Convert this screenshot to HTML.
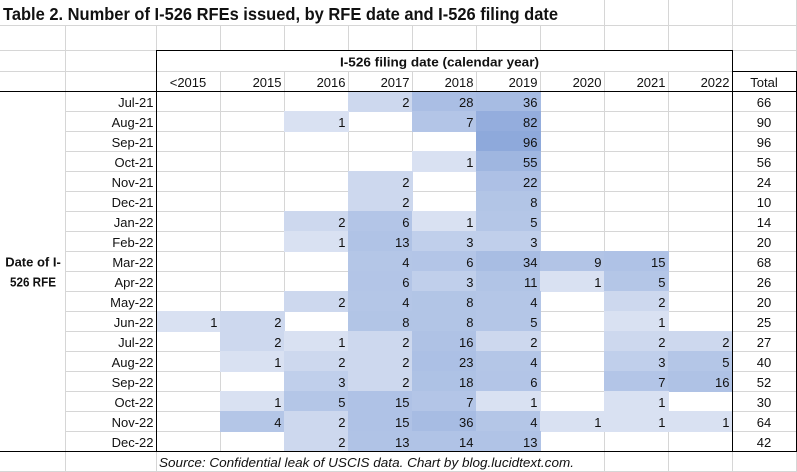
<!DOCTYPE html>
<html><head><meta charset="utf-8"><style>
html,body{margin:0;padding:0;background:#fff;}
svg{display:block;}
text{font-family:"Liberation Sans",Arial,sans-serif;font-size:13px;fill:#111;}
.b{font-weight:bold;}
.e{text-anchor:end;}
.m{text-anchor:middle;}
</style></head><body>
<svg width="797" height="472" viewBox="0 0 797 472" xmlns="http://www.w3.org/2000/svg">
<rect x="0" y="0" width="797" height="472" fill="#fff"/>
<g fill="#d6d6d6" shape-rendering="crispEdges">
<!-- horizontal gridlines -->
<rect x="0" y="25" width="797" height="1"/>
<rect x="0" y="50" width="797" height="1"/>
<rect x="0" y="71" width="797" height="1"/>
<rect x="65" y="111" width="732" height="1"/>
<rect x="65" y="131" width="732" height="1"/>
<rect x="65" y="151" width="732" height="1"/>
<rect x="65" y="171" width="732" height="1"/>
<rect x="65" y="191" width="732" height="1"/>
<rect x="65" y="211" width="732" height="1"/>
<rect x="65" y="231" width="732" height="1"/>
<rect x="65" y="251" width="732" height="1"/>
<rect x="65" y="271" width="732" height="1"/>
<rect x="65" y="291" width="732" height="1"/>
<rect x="65" y="311" width="732" height="1"/>
<rect x="65" y="331" width="732" height="1"/>
<rect x="65" y="351" width="732" height="1"/>
<rect x="65" y="371" width="732" height="1"/>
<rect x="65" y="391" width="732" height="1"/>
<rect x="65" y="411" width="732" height="1"/>
<rect x="65" y="431" width="732" height="1"/>
<rect x="0" y="471" width="797" height="1"/>
<!-- row 1 verticals -->
<rect x="604" y="0" width="1" height="25"/>
<rect x="668" y="0" width="1" height="25"/>
<rect x="732" y="0" width="1" height="25"/>
<rect x="796" y="0" width="1" height="71"/>
<!-- row 2 verticals -->
<rect x="156" y="25" width="1" height="25"/>
<rect x="220" y="25" width="1" height="25"/>
<rect x="284" y="25" width="1" height="25"/>
<rect x="348" y="25" width="1" height="25"/>
<rect x="412" y="25" width="1" height="25"/>
<rect x="476" y="25" width="1" height="25"/>
<rect x="540" y="25" width="1" height="25"/>
<rect x="604" y="25" width="1" height="25"/>
<rect x="668" y="25" width="1" height="25"/>
<rect x="732" y="25" width="1" height="25"/>
<!-- col A/B -->
<rect x="65" y="25" width="1" height="447"/>
<!-- rows 4..22 verticals -->
<rect x="220" y="71" width="1" height="380"/>
<rect x="284" y="71" width="1" height="380"/>
<rect x="348" y="71" width="1" height="380"/>
<rect x="412" y="71" width="1" height="380"/>
<rect x="476" y="71" width="1" height="380"/>
<rect x="540" y="71" width="1" height="380"/>
<rect x="604" y="71" width="1" height="380"/>
<rect x="668" y="71" width="1" height="380"/>
<!-- source row verticals -->
<rect x="156" y="451" width="1" height="21"/>
<rect x="604" y="451" width="1" height="21"/>
<rect x="668" y="451" width="1" height="21"/>
<rect x="732" y="451" width="1" height="21"/>
<rect x="796" y="451" width="1" height="21"/>
</g>

<g shape-rendering="crispEdges">
<!-- i0 -->
<rect x="348" y="91" width="65" height="21" fill="#CDD8EE"/>
<rect x="412" y="91" width="65" height="21" fill="#AABEE4"/>
<rect x="476" y="91" width="65" height="21" fill="#A7BCE3"/>
<!-- i1 -->
<rect x="284" y="111" width="65" height="21" fill="#D9E1F2"/>
<rect x="412" y="111" width="65" height="21" fill="#B3C5E7"/>
<rect x="476" y="111" width="65" height="21" fill="#94ADDD"/>
<!-- i2 -->
<rect x="476" y="131" width="65" height="21" fill="#8EA9DB"/>
<!-- i3 -->
<rect x="412" y="151" width="65" height="21" fill="#D9E1F2"/>
<rect x="476" y="151" width="65" height="21" fill="#9FB6E0"/>
<!-- i4 -->
<rect x="348" y="171" width="65" height="21" fill="#CDD8EE"/>
<rect x="476" y="171" width="65" height="21" fill="#ADC0E5"/>
<!-- i5 -->
<rect x="348" y="191" width="65" height="21" fill="#CDD8EE"/>
<rect x="476" y="191" width="65" height="21" fill="#B2C5E6"/>
<!-- i6 -->
<rect x="284" y="211" width="65" height="21" fill="#CDD8EE"/>
<rect x="348" y="211" width="65" height="21" fill="#B3C5E7"/>
<rect x="412" y="211" width="65" height="21" fill="#D9E1F2"/>
<rect x="476" y="211" width="65" height="21" fill="#B4C6E7"/>
<!-- i7 -->
<rect x="284" y="231" width="65" height="21" fill="#D9E1F2"/>
<rect x="348" y="231" width="65" height="21" fill="#B0C3E6"/>
<rect x="412" y="231" width="65" height="21" fill="#C0CFEB"/>
<rect x="476" y="231" width="65" height="21" fill="#C0CFEB"/>
<!-- i8 -->
<rect x="348" y="251" width="65" height="21" fill="#B4C6E7"/>
<rect x="412" y="251" width="65" height="21" fill="#B3C5E7"/>
<rect x="476" y="251" width="65" height="21" fill="#A8BDE3"/>
<rect x="540" y="251" width="65" height="21" fill="#B2C4E6"/>
<rect x="604" y="251" width="65" height="21" fill="#AFC2E6"/>
<!-- i9 -->
<rect x="348" y="271" width="65" height="21" fill="#B3C5E7"/>
<rect x="412" y="271" width="65" height="21" fill="#C0CFEB"/>
<rect x="476" y="271" width="65" height="21" fill="#B1C4E6"/>
<rect x="540" y="271" width="65" height="21" fill="#D9E1F2"/>
<rect x="604" y="271" width="65" height="21" fill="#B4C6E7"/>
<!-- i10 -->
<rect x="284" y="291" width="65" height="21" fill="#CDD8EE"/>
<rect x="348" y="291" width="65" height="21" fill="#B4C6E7"/>
<rect x="412" y="291" width="65" height="21" fill="#B2C5E6"/>
<rect x="476" y="291" width="65" height="21" fill="#B4C6E7"/>
<rect x="604" y="291" width="65" height="21" fill="#CDD8EE"/>
<!-- i11 -->
<rect x="156" y="311" width="65" height="21" fill="#D9E1F2"/>
<rect x="220" y="311" width="65" height="21" fill="#CDD8EE"/>
<rect x="348" y="311" width="65" height="21" fill="#B2C5E6"/>
<rect x="412" y="311" width="65" height="21" fill="#B2C5E6"/>
<rect x="476" y="311" width="65" height="21" fill="#B4C6E7"/>
<rect x="604" y="311" width="65" height="21" fill="#D9E1F2"/>
<!-- i12 -->
<rect x="220" y="331" width="65" height="21" fill="#CDD8EE"/>
<rect x="284" y="331" width="65" height="21" fill="#D9E1F2"/>
<rect x="348" y="331" width="65" height="21" fill="#CDD8EE"/>
<rect x="412" y="331" width="65" height="21" fill="#AFC2E5"/>
<rect x="476" y="331" width="65" height="21" fill="#CDD8EE"/>
<rect x="604" y="331" width="65" height="21" fill="#CDD8EE"/>
<rect x="668" y="331" width="65" height="21" fill="#CDD8EE"/>
<!-- i13 -->
<rect x="220" y="351" width="65" height="21" fill="#D9E1F2"/>
<rect x="284" y="351" width="65" height="21" fill="#CDD8EE"/>
<rect x="348" y="351" width="65" height="21" fill="#CDD8EE"/>
<rect x="412" y="351" width="65" height="21" fill="#ACC0E5"/>
<rect x="476" y="351" width="65" height="21" fill="#B4C6E7"/>
<rect x="604" y="351" width="65" height="21" fill="#C0CFEB"/>
<rect x="668" y="351" width="65" height="21" fill="#B4C6E7"/>
<!-- i14 -->
<rect x="284" y="371" width="65" height="21" fill="#C0CFEB"/>
<rect x="348" y="371" width="65" height="21" fill="#CDD8EE"/>
<rect x="412" y="371" width="65" height="21" fill="#AEC2E5"/>
<rect x="476" y="371" width="65" height="21" fill="#B3C5E7"/>
<rect x="604" y="371" width="65" height="21" fill="#B3C5E7"/>
<rect x="668" y="371" width="65" height="21" fill="#AFC2E5"/>
<!-- i15 -->
<rect x="220" y="391" width="65" height="21" fill="#D9E1F2"/>
<rect x="284" y="391" width="65" height="21" fill="#B4C6E7"/>
<rect x="348" y="391" width="65" height="21" fill="#AFC2E6"/>
<rect x="412" y="391" width="65" height="21" fill="#B3C5E7"/>
<rect x="476" y="391" width="65" height="21" fill="#D9E1F2"/>
<rect x="604" y="391" width="65" height="21" fill="#D9E1F2"/>
<!-- i16 -->
<rect x="220" y="411" width="65" height="21" fill="#B4C6E7"/>
<rect x="284" y="411" width="65" height="21" fill="#CDD8EE"/>
<rect x="348" y="411" width="65" height="21" fill="#AFC2E6"/>
<rect x="412" y="411" width="65" height="21" fill="#A7BCE3"/>
<rect x="476" y="411" width="65" height="21" fill="#B4C6E7"/>
<rect x="540" y="411" width="65" height="21" fill="#D9E1F2"/>
<rect x="604" y="411" width="65" height="21" fill="#D9E1F2"/>
<rect x="668" y="411" width="65" height="21" fill="#D9E1F2"/>
<!-- i17 -->
<rect x="284" y="431" width="65" height="21" fill="#CDD8EE"/>
<rect x="348" y="431" width="65" height="21" fill="#B0C3E6"/>
<rect x="412" y="431" width="65" height="21" fill="#B0C3E6"/>
<rect x="476" y="431" width="65" height="21" fill="#B0C3E6"/>
</g>

<!-- black borders -->
<g fill="#000" shape-rendering="crispEdges">
<rect x="156" y="50" width="577" height="1"/>
<rect x="156" y="50" width="1" height="402"/>
<rect x="732" y="50" width="1" height="402"/>
<rect x="732" y="71" width="65" height="1"/>
<rect x="796" y="71" width="1" height="381"/>
<rect x="0" y="91" width="797" height="1"/>
<rect x="0" y="451" width="797" height="1"/>
</g>

<!-- title -->
<text x="3" y="20" class="b" style="font-size:17.5px" textLength="555" lengthAdjust="spacingAndGlyphs">Table 2. Number of I-526 RFEs issued, by RFE date and I-526 filing date</text>

<!-- headers -->
<text x="340" y="66.5" class="b" textLength="199" lengthAdjust="spacingAndGlyphs">I-526 filing date (calendar year)</text>
<text x="188" y="87" class="m">&lt;2015</text>
<text x="281.5" y="87" class="e">2015</text>
<text x="345.5" y="87" class="e">2016</text>
<text x="409.5" y="87" class="e">2017</text>
<text x="473.5" y="87" class="e">2018</text>
<text x="537.5" y="87" class="e">2019</text>
<text x="601.5" y="87" class="e">2020</text>
<text x="665.5" y="87" class="e">2021</text>
<text x="729.5" y="87" class="e">2022</text>
<text x="764" y="87" class="m">Total</text>

<text x="33" y="266.5" class="b m">Date of I-</text>
<text x="33" y="286.5" class="b m" textLength="46" lengthAdjust="spacingAndGlyphs">526 RFE</text>

<!-- row labels -->
<g class="e">
<text x="153.5" y="107" class="e">Jul-21</text>
<text x="153.5" y="127" class="e">Aug-21</text>
<text x="153.5" y="147" class="e">Sep-21</text>
<text x="153.5" y="167" class="e">Oct-21</text>
<text x="153.5" y="187" class="e">Nov-21</text>
<text x="153.5" y="207" class="e">Dec-21</text>
<text x="153.5" y="227" class="e">Jan-22</text>
<text x="153.5" y="247" class="e">Feb-22</text>
<text x="153.5" y="267" class="e">Mar-22</text>
<text x="153.5" y="287" class="e">Apr-22</text>
<text x="153.5" y="307" class="e">May-22</text>
<text x="153.5" y="327" class="e">Jun-22</text>
<text x="153.5" y="347" class="e">Jul-22</text>
<text x="153.5" y="367" class="e">Aug-22</text>
<text x="153.5" y="387" class="e">Sep-22</text>
<text x="153.5" y="407" class="e">Oct-22</text>
<text x="153.5" y="427" class="e">Nov-22</text>
<text x="153.5" y="447" class="e">Dec-22</text>
</g>

<!-- values -->
<!-- i0 -->
<text x="409.5" y="107" class="e">2</text>
<text x="473.5" y="107" class="e">28</text>
<text x="537.5" y="107" class="e">36</text>
<!-- i1 -->
<text x="345.5" y="127" class="e">1</text>
<text x="473.5" y="127" class="e">7</text>
<text x="537.5" y="127" class="e">82</text>
<!-- i2 -->
<text x="537.5" y="147" class="e">96</text>
<!-- i3 -->
<text x="473.5" y="167" class="e">1</text>
<text x="537.5" y="167" class="e">55</text>
<!-- i4 -->
<text x="409.5" y="187" class="e">2</text>
<text x="537.5" y="187" class="e">22</text>
<!-- i5 -->
<text x="409.5" y="207" class="e">2</text>
<text x="537.5" y="207" class="e">8</text>
<!-- i6 -->
<text x="345.5" y="227" class="e">2</text>
<text x="409.5" y="227" class="e">6</text>
<text x="473.5" y="227" class="e">1</text>
<text x="537.5" y="227" class="e">5</text>
<!-- i7 -->
<text x="345.5" y="247" class="e">1</text>
<text x="409.5" y="247" class="e">13</text>
<text x="473.5" y="247" class="e">3</text>
<text x="537.5" y="247" class="e">3</text>
<!-- i8 -->
<text x="409.5" y="267" class="e">4</text>
<text x="473.5" y="267" class="e">6</text>
<text x="537.5" y="267" class="e">34</text>
<text x="601.5" y="267" class="e">9</text>
<text x="665.5" y="267" class="e">15</text>
<!-- i9 -->
<text x="409.5" y="287" class="e">6</text>
<text x="473.5" y="287" class="e">3</text>
<text x="537.5" y="287" class="e">11</text>
<text x="601.5" y="287" class="e">1</text>
<text x="665.5" y="287" class="e">5</text>
<!-- i10 -->
<text x="345.5" y="307" class="e">2</text>
<text x="409.5" y="307" class="e">4</text>
<text x="473.5" y="307" class="e">8</text>
<text x="537.5" y="307" class="e">4</text>
<text x="665.5" y="307" class="e">2</text>
<!-- i11 -->
<text x="217.5" y="327" class="e">1</text>
<text x="281.5" y="327" class="e">2</text>
<text x="409.5" y="327" class="e">8</text>
<text x="473.5" y="327" class="e">8</text>
<text x="537.5" y="327" class="e">5</text>
<text x="665.5" y="327" class="e">1</text>
<!-- i12 -->
<text x="281.5" y="347" class="e">2</text>
<text x="345.5" y="347" class="e">1</text>
<text x="409.5" y="347" class="e">2</text>
<text x="473.5" y="347" class="e">16</text>
<text x="537.5" y="347" class="e">2</text>
<text x="665.5" y="347" class="e">2</text>
<text x="729.5" y="347" class="e">2</text>
<!-- i13 -->
<text x="281.5" y="367" class="e">1</text>
<text x="345.5" y="367" class="e">2</text>
<text x="409.5" y="367" class="e">2</text>
<text x="473.5" y="367" class="e">23</text>
<text x="537.5" y="367" class="e">4</text>
<text x="665.5" y="367" class="e">3</text>
<text x="729.5" y="367" class="e">5</text>
<!-- i14 -->
<text x="345.5" y="387" class="e">3</text>
<text x="409.5" y="387" class="e">2</text>
<text x="473.5" y="387" class="e">18</text>
<text x="537.5" y="387" class="e">6</text>
<text x="665.5" y="387" class="e">7</text>
<text x="729.5" y="387" class="e">16</text>
<!-- i15 -->
<text x="281.5" y="407" class="e">1</text>
<text x="345.5" y="407" class="e">5</text>
<text x="409.5" y="407" class="e">15</text>
<text x="473.5" y="407" class="e">7</text>
<text x="537.5" y="407" class="e">1</text>
<text x="665.5" y="407" class="e">1</text>
<!-- i16 -->
<text x="281.5" y="427" class="e">4</text>
<text x="345.5" y="427" class="e">2</text>
<text x="409.5" y="427" class="e">15</text>
<text x="473.5" y="427" class="e">36</text>
<text x="537.5" y="427" class="e">4</text>
<text x="601.5" y="427" class="e">1</text>
<text x="665.5" y="427" class="e">1</text>
<text x="729.5" y="427" class="e">1</text>
<!-- i17 -->
<text x="345.5" y="447" class="e">2</text>
<text x="409.5" y="447" class="e">13</text>
<text x="473.5" y="447" class="e">14</text>
<text x="537.5" y="447" class="e">13</text>

<!-- totals -->
<text x="764" y="107" class="m">66</text>
<text x="764" y="127" class="m">90</text>
<text x="764" y="147" class="m">96</text>
<text x="764" y="167" class="m">56</text>
<text x="764" y="187" class="m">24</text>
<text x="764" y="207" class="m">10</text>
<text x="764" y="227" class="m">14</text>
<text x="764" y="247" class="m">20</text>
<text x="764" y="267" class="m">68</text>
<text x="764" y="287" class="m">26</text>
<text x="764" y="307" class="m">20</text>
<text x="764" y="327" class="m">25</text>
<text x="764" y="347" class="m">27</text>
<text x="764" y="367" class="m">40</text>
<text x="764" y="387" class="m">52</text>
<text x="764" y="407" class="m">30</text>
<text x="764" y="427" class="m">64</text>
<text x="764" y="447" class="m">42</text>

<!-- source -->
<text x="159" y="467" style="font-style:italic" textLength="415" lengthAdjust="spacingAndGlyphs">Source: Confidential leak of USCIS data. Chart by blog.lucidtext.com.</text>
</svg>
</body></html>
